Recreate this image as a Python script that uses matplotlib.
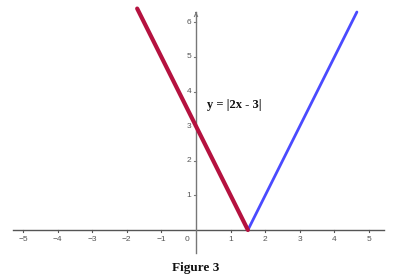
import matplotlib
matplotlib.use("Agg")
import matplotlib.pyplot as plt
import numpy as np

# data
x_left = [-1.7, 1.5]       # red branch: y = 3 - 2x
x_right = [1.5, 4.65]      # blue branch: y = 2x - 3
x_ticks = [-5, -4, -3, -2, -1, 1, 2, 3, 4, 5]
y_ticks = [1, 2, 3, 4, 5, 6]
label_text = "y = |2x - 3|"
caption = "Figure 3"

fig = plt.figure(figsize=(4.0, 2.76), dpi=100)
ax = fig.add_axes([0, 0, 1, 1])
x0, ux = 196.0, 34.6
y0, uy = 230.0, 34.6
ax.set_xlim((0 - x0) / ux, (400 - x0) / ux)
ax.set_ylim((y0 - 276) / uy, y0 / uy)
ax.axis("off")

# axes
ax.plot([-5.3, 5.42], [0, 0], color="#555555", lw=1.0, zorder=1)
ax.plot([0, 0], [-0.66, 6.3], color="#777777", lw=1.0, zorder=1)
ax.annotate("", xy=(0, 6.38), xytext=(0, 6.2),
            arrowprops=dict(arrowstyle="->", color="#777777", lw=0.8, mutation_scale=6))

tf = dict(fontsize=6, color="#555555", family="Liberation Sans")
for t in x_ticks:
    ax.plot([t, t], [0, -0.06], color="#555555", lw=0.8)
    ax.text(t, -0.27, f"{t}".replace("-", "\u2212"), ha="center", va="center", **tf)
ax.text(-0.25, -0.27, "0", ha="center", va="center", **tf)
for t in y_ticks:
    ax.plot([0, -0.06], [t, t], color="#777777", lw=0.8)
    ax.text(-0.2, t, f"{t}", ha="center", va="center", **tf)

xl = np.array(x_left)
xr = np.array(x_right)
ax.plot(xr, 2 * xr - 3, color="#4a4aff", lw=2.0, solid_capstyle="round", zorder=3)
ax.plot(xl, 3 - 2 * xl, color="#b5123f", lw=3.0, solid_capstyle="round", zorder=4)

ax.text(0.32, 3.6, label_text, fontsize=9, fontweight="bold",
        family="Liberation Serif", ha="left", va="center", color="#111111")
fig.text(0.49, 1 - 268 / 276, caption, fontsize=9.5, fontweight="bold",
         family="Liberation Serif", ha="center", va="center", color="#111111")

fig.savefig("out.png", dpi=100)
